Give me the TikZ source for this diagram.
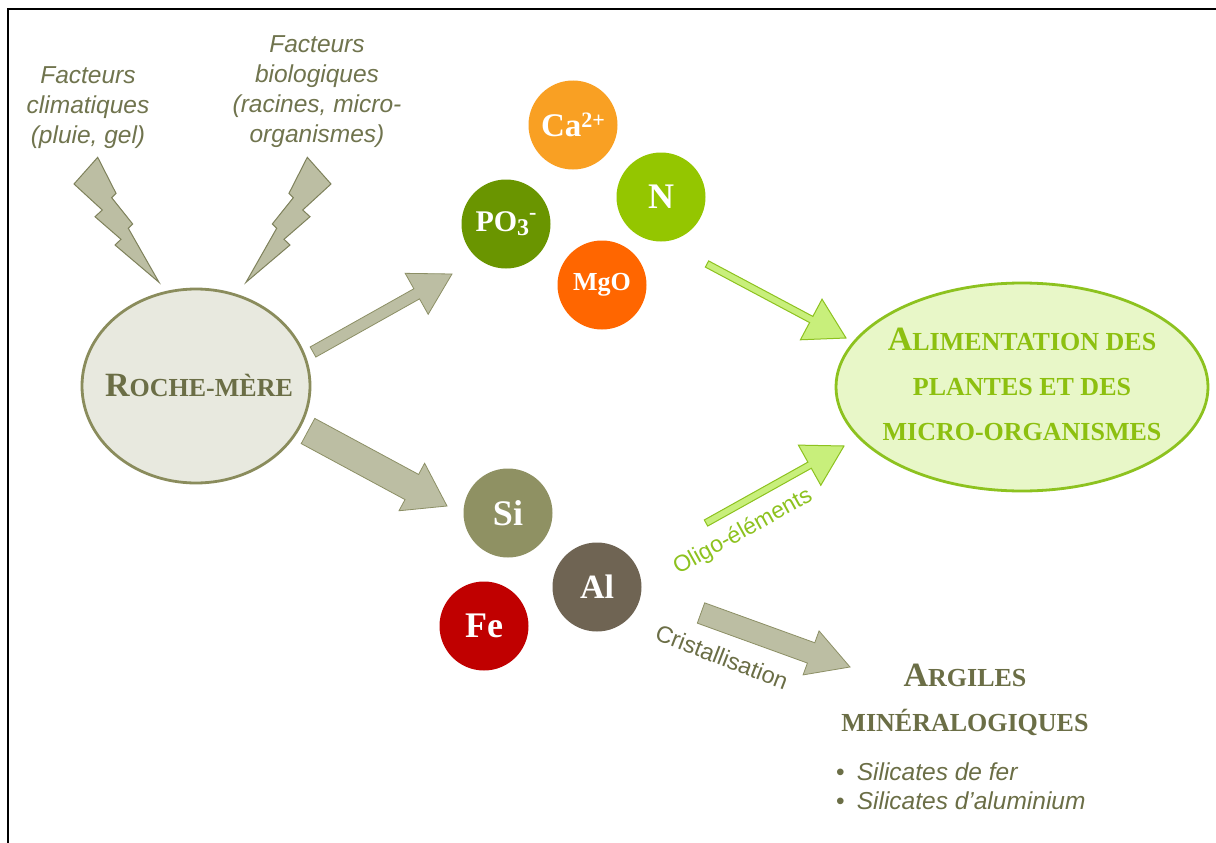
\documentclass[tikz,border=0pt]{standalone}
\usepackage{fontspec}
\setmainfont{Liberation Serif}
\setsansfont{Liberation Sans}
\usetikzlibrary{calc,shapes.geometric}
\definecolor{olivetxt}{HTML}{6B6E46}
\definecolor{factcol}{HTML}{70744E}
\definecolor{olivestroke}{HTML}{8A8C5C}
\definecolor{rochefill}{HTML}{E8E9DF}
\definecolor{arrfill}{HTML}{BCBEA3}
\definecolor{arrstroke}{HTML}{8C8F65}
\definecolor{limestroke}{HTML}{8DC21F}
\definecolor{limefill}{HTML}{E8F7C8}
\definecolor{limetxt}{HTML}{8DC010}
\definecolor{garrfill}{HTML}{C8EF7B}
\definecolor{caorange}{HTML}{F9A023}
\definecolor{ngreen}{HTML}{94C600}
\definecolor{pogreen}{HTML}{6A9500}
\definecolor{mgorange}{HTML}{FF6600}
\definecolor{siolive}{HTML}{8F9163}
\definecolor{albrown}{HTML}{6F6453}
\definecolor{fered}{HTML}{C00000}
\newcommand\mysc[2]{{\fontsize{34}{34}\selectfont #1}{\fontsize{26}{26}\selectfont #2}}
\newcommand\blockarrow[6]{%
  \coordinate (#2-#3-base) at ($(#3)!#6!(#2)$);
  \draw[#1] ($(#2)!#4!90:(#3)$) -- ($(#2-#3-base)!#4!-90:(#2)$) -- ($(#2-#3-base)!#5!-90:(#2)$) -- (#3)
    -- ($(#2-#3-base)!#5!90:(#2)$) -- ($(#2-#3-base)!#4!90:(#2)$) -- ($(#2)!#4!-90:(#3)$) -- cycle;}
\tikzset{
  elem/.style={circle, minimum size=89pt, inner sep=0pt, text=white, font=\bfseries},
  grayarr/.style={fill=arrfill, draw=arrstroke, line width=0.8pt, line join=miter},
  greenarr/.style={fill=garrfill, draw=limestroke, line width=1pt, line join=miter},
  bolt/.style={fill=arrfill, draw=arrstroke!90!black, line width=1pt, line join=miter},
  factxt/.style={align=center, text=factcol, font=\sffamily\itshape\fontsize{24.5}{30}\selectfont, inner sep=0pt},
  titletxt/.style={align=center, font=\bfseries\fontsize{26}{45}\selectfont, inner sep=0pt}
}
\begin{document}
\begin{tikzpicture}[x=1pt, y=-1pt]
\useasboundingbox (0,0) rectangle (1216,843);
\fill[white] (0,0) rectangle (1216,843);
% frame
\draw[line width=2.5pt, black] (8,843) -- (8,9) -- (1216,9);
% texts top
\node[factxt] (fclim) at (88,108) {Facteurs\\climatiques\\(pluie, gel)};
\node[factxt] (fbio) at (317,92) {Facteurs\\biologiques\\(racines, micro-\\organismes)};
% bolts
\draw[bolt] (97.7,157.3) -- (116,193.3) -- (111.7,197.7) -- (132.7,224) -- (128.3,228.3) -- (159,282.3)
  -- (115,245) -- (121,239.3) -- (95,216.7) -- (102.3,210) -- (74,184) -- cycle;
\draw[bolt] (307.3,157.3) -- (289,193.3) -- (293.3,197.7) -- (272.3,224) -- (276.7,228.3) -- (246,282.3)
  -- (290,245) -- (284,239.3) -- (310,216.7) -- (302.7,210) -- (331,184) -- cycle;
% roche-mere
\node[ellipse, minimum width=228pt, minimum height=194pt, inner sep=0pt, draw=olivestroke, line width=2.8pt, fill=rochefill] (roche) at (196,386) {};
\node[titletxt, text=olivetxt] (rochetxt) at (199,385) {\mysc{R}{OCHE-MÈRE}};
% alimentation
\node[ellipse, minimum width=372pt, minimum height=208pt, inner sep=0pt, draw=limestroke, line width=2.8pt, fill=limefill] (alim) at (1022,387) {};
\node[titletxt, text=limetxt] (alimtxt) at (1022,384) {\mysc{A}{LIMENTATION DES}\\PLANTES ET DES\\MICRO-ORGANISMES};
% elements
\node[elem, fill=caorange] (ca) at (573,125) {\fontsize{33}{33}\selectfont Ca\raisebox{0.55ex}{\fontsize{22}{22}\selectfont 2+}};
\node[elem, fill=ngreen] (n) at (661,197) {\fontsize{36}{36}\selectfont N};
\node[elem, fill=pogreen] (po) at (506,224) {\fontsize{30}{30}\selectfont PO\raisebox{-0.3ex}{\fontsize{24}{24}\selectfont 3}\raisebox{0.9ex}{\fontsize{22}{22}\selectfont -}};
\node[elem, fill=mgorange] (mgo) at (602,285) {\fontsize{26}{26}\selectfont MgO};
\node[elem, fill=siolive] (si) at (508,513) {\fontsize{36}{36}\selectfont Si};
\node[elem, fill=albrown] (al) at (597,587) {\fontsize{34}{34}\selectfont Al};
\node[elem, fill=fered] (fe) at (484,626) {\fontsize{36}{36}\selectfont Fe};
% arrow coordinates
\coordinate (a1s) at (313,352); \coordinate (a1e) at (452,274);
\coordinate (a2s) at (308,431); \coordinate (a2e) at (447,506);
\coordinate (a3s) at (701,613); \coordinate (a3e) at (850,667);
\coordinate (g1s) at (707,264); \coordinate (g1e) at (846,338);
\coordinate (g2s) at (706,523); \coordinate (g2e) at (844,446);
\blockarrow{grayarr}{a1s}{a1e}{5.8pt}{23.5pt}{40.5pt}
\blockarrow{grayarr}{a2s}{a2e}{14.3pt}{27pt}{40pt}
\blockarrow{grayarr}{a3s}{a3e}{10.8pt}{23.4pt}{41.4pt}
\blockarrow{greenarr}{g1s}{g1e}{3.5pt}{23pt}{39.4pt}
\blockarrow{greenarr}{g2s}{g2e}{3.5pt}{23pt}{39.4pt}
% arrow labels
\node[rotate=29, text=limestroke, font=\sffamily\fontsize{23}{23}\selectfont, inner sep=0pt] (oligo) at (743,532) {Oligo-éléments};
\node[rotate=-21, text=olivetxt, font=\sffamily\fontsize{23.5}{23.5}\selectfont, inner sep=0pt] (crist) at (722,657) {Cristallisation};
% argiles
\node[titletxt, text=olivetxt] (argiles) at (965,700) {\mysc{A}{RGILES}\\MINÉRALOGIQUES};
\node[anchor=base west, text=olivetxt, font=\sffamily\fontsize{24.5}{24.5}\selectfont, inner sep=0pt] (sil1) at (836,780) {\textbullet\hspace{12pt}\textit{Silicates de fer}};
\node[anchor=base west, text=olivetxt, font=\sffamily\fontsize{24.5}{24.5}\selectfont, inner sep=0pt] (sil2) at (836,809) {\textbullet\hspace{12pt}\textit{Silicates d’aluminium}};
\end{tikzpicture}
\end{document}
